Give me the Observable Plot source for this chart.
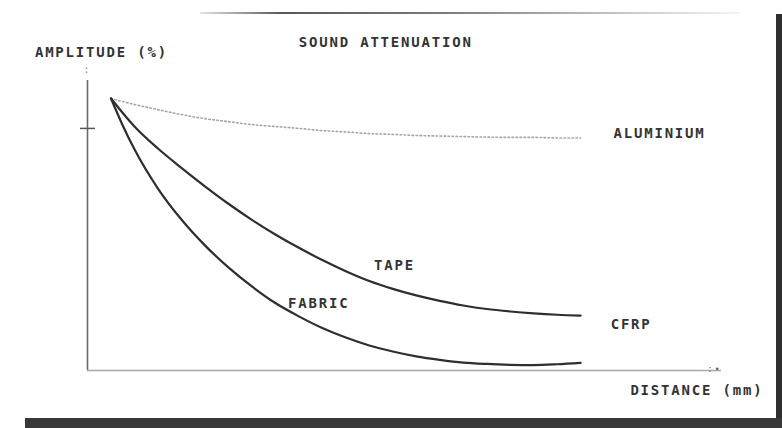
<!DOCTYPE html>
<html>
<head>
<meta charset="utf-8">
<script src="https://cdn.jsdelivr.net/npm/d3@7"></script>
<script src="https://cdn.jsdelivr.net/npm/@observablehq/plot@0.6"></script>
<style>
  html, body { margin: 0; padding: 0; background: #fff; }
  #wrap { position: relative; width: 782px; height: 428px; overflow: hidden; background: #fff; }
  #wrap svg { position: absolute; left: 0; top: 0; }
  .topline { position: absolute; left: 200px; top: 12px; width: 540px; height: 2px;
    background: linear-gradient(to right, rgba(120,120,120,0.2), rgba(70,70,70,0.9) 15%, rgba(90,90,90,0.8) 45%, rgba(150,150,150,0.5) 80%, rgba(200,200,200,0.2)); }
  .rightline { position: absolute; left: 776px; top: 14px; width: 6px; height: 404px; background: #2f2f2f; }
  .bottombar { position: absolute; left: 25px; top: 418px; width: 757px; height: 10px; background: #383838; }
</style>
</head>
<body>
<div id="wrap">
  <div class="topline"></div>
  <div class="rightline"></div>
  <div class="bottombar"></div>
</div>
<script>
// Distance (arbitrary mm units) sampled along the curves
const distance = [0, 5, 10, 15, 20, 25, 30, 35, 40, 45, 50, 55, 60, 65, 70, 75, 80, 85, 90, 95, 100];
// Amplitude (%)
const aluminium = [100, 97.8, 95.9, 94.1, 92.6, 91.5, 90.4, 89.7, 89.0, 88.2, 87.7, 87.1, 86.8, 86.4, 86.2, 86.0, 85.8, 85.7, 85.7, 85.5, 85.5];
const tape = [100, 89.7, 81.6, 74.5, 67.7, 61.3, 55.4, 50.0, 45.1, 40.6, 36.5, 32.9, 30.0, 27.6, 25.6, 23.9, 22.6, 21.7, 21.0, 20.5, 20.2];
const fabricDistance = [0, 2.5, 5, 10, 15, 20, 25, 30, 35, 40, 45, 50, 55, 60, 65, 70, 75, 80, 85, 90, 95, 100];
const fabric = [100, 90.1, 81.3, 66.9, 55.5, 46.0, 37.9, 30.9, 24.8, 19.9, 15.6, 12.1, 9.2, 7.0, 5.2, 3.9, 2.9, 2.4, 2.1, 2.0, 2.3, 2.8];

// Text labels
const titleText = "SOUND ATTENUATION";
const yLabel = "AMPLITUDE (%)";
const xLabel = "DISTANCE (mm)";
const seriesLabels = ["ALUMINIUM", "TAPE", "FABRIC", "CFRP"];
const yTicks = [89];

const xDomain = [-5, 130];
const yDomain = [0, 110];

const alData = distance.map((d, i) => ({d, a: aluminium[i]}));
const tapeData = distance.map((d, i) => ({d, a: tape[i]}));
const fabData = fabricDistance.map((d, i) => ({d, a: fabric[i]}));

const labelPos = [
  {text: seriesLabels[0], d: 107.0, a: 87.1},
  {text: seriesLabels[1], d: 56.0, a: 38.6},
  {text: seriesLabels[2], d: 37.7, a: 24.6},
  {text: seriesLabels[3], d: 106.4, a: 16.9},
  {text: xLabel, d: 110.6, a: -7.4},
  {text: yLabel, d: -16.2, a: 116.9}
];

const font = "'DejaVu Sans Mono', 'Liberation Mono', monospace";

const chart = Plot.plot({
  width: 782,
  height: 428,
  marginLeft: 87,
  marginRight: 61,
  marginTop: 70.8,
  marginBottom: 58,
  x: {domain: xDomain, axis: null},
  y: {domain: yDomain, axis: null},
  style: {background: "transparent", fontFamily: font},
  marks: [
    // y axis line
    Plot.ruleX([xDomain[0]], {y1: 0, y2: 106.6, stroke: "#6a6a6a", strokeWidth: 1.6}),
    // y tick
    Plot.ruleY(yTicks, {x1: -6.5, x2: -3.3, stroke: "#555", strokeWidth: 1.5}),
    // x axis line
    Plot.ruleY([0], {x1: xDomain[0], x2: xDomain[1], stroke: "#a8a8a8", strokeWidth: 1.6}),
    // axis arrow tips
    Plot.text([{d: xDomain[0], a: 110.5}], {x: "d", y: "a", text: () => ":", fill: "#888", fontSize: 10}),
    Plot.text([{d: 128.5, a: 0.4}], {x: "d", y: "a", text: () => ":•", fill: "#666", fontSize: 9}),
    // curves
    Plot.line(alData, {x: "d", y: "a", curve: "monotone-x", stroke: "#a6a6a6", strokeWidth: 1.6, strokeDasharray: "1.5,2.5"}),
    Plot.line(tapeData, {x: "d", y: "a", curve: "monotone-x", stroke: "#2e2e2e", strokeWidth: 2.2}),
    Plot.line(fabData, {x: "d", y: "a", curve: "monotone-x", stroke: "#2e2e2e", strokeWidth: 2.2}),
    // labels
    Plot.text(labelPos, {x: "d", y: "a", text: "text", textAnchor: "start", fill: "#333",
      fontSize: 14, fontWeight: "bold", fontFamily: font}),
    Plot.text([{text: titleText, d: 58.5, a: 120.6}], {x: "d", y: "a", text: "text", fill: "#333",
      fontSize: 14, fontWeight: "bold", fontFamily: font})
  ]
});

d3.select(chart).selectAll("text").style("letter-spacing", "1.8px");
document.getElementById("wrap").appendChild(chart);
</script>
</body>
</html>
